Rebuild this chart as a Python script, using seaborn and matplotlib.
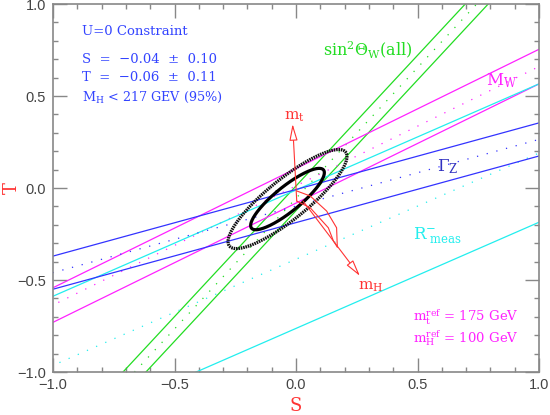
import numpy as np
import pandas as pd
import matplotlib
matplotlib.use("Agg")
import matplotlib.pyplot as plt
import seaborn as sns

# Bands in the S-T plane: T = slope * S + centre +/- halfwidth
band_names = ["sin2thetaW", "MW", "Rmeas", "GammaZ"]
band_slopes = [1.42, 0.648, 0.577, 0.362]
band_centres = [-0.056, 0.012, -0.387, -0.098]
band_halfwidths = [0.067, 0.094, 0.376, 0.090]
band_colors = ["#22dd22", "#ff22ff", "#22eeee", "#3333ff"]

# Fit result (S, T) with errors and correlation
fit_S = -0.035
fit_T = -0.06
err_S = 0.10
err_T = 0.11
fit_rho = 0.86
contour_levels = [2.30, 5.99]  # 68% and 95% CL, 2 dof

# m_t and m_H dependence (arrows / curves)
mt_arrow_S = [0.003, -0.014]
mt_arrow_T = [-0.071, 0.348]
mh_arrow_S = [0.029, 0.263]
mh_arrow_T = [-0.071, -0.478]
mh_upper_S = [0.003, 0.058, 0.126, 0.167, 0.170]
mh_upper_T = [-0.016, -0.043, -0.125, -0.216, -0.321]
mh_lower_S = [0.003, 0.058, 0.133, 0.154, 0.170]
mh_lower_T = [-0.071, -0.107, -0.216, -0.288, -0.321]

red = "#ff3333"
sns.set_style("ticks")
plt.rcParams["font.family"] = ["DejaVu Serif"]
plt.rcParams["mathtext.fontset"] = "dejavuserif"

fig = plt.figure(figsize=(5.5, 4.15), dpi=100)
ax = fig.add_axes([0.0964, 0.1036, 0.8836, 0.8867])

s_grid = np.array([-1.2, 1.2])
for name, k, c, w, col in zip(band_names, band_slopes, band_centres, band_halfwidths, band_colors):
    for off, ls in [(w, "-"), (-w, "-"), (0.0, (0, (1, 7)))]:
        df = pd.DataFrame({"S": s_grid, "T": k * s_grid + c + off})
        sns.lineplot(data=df, x="S", y="T", ax=ax, color=col, lw=0.9, linestyle=ls,
                     estimator=None, sort=False)

# error ellipses
phi = np.linspace(0, 2 * np.pi, 300)
cov = np.array([[err_S ** 2, fit_rho * err_S * err_T],
                [fit_rho * err_S * err_T, err_T ** 2]])
vals, vecs = np.linalg.eigh(cov)
for lev, ls, col in zip(contour_levels, ["-", (0, (0.5, 0.25))], ["black", "#111111"]):
    pts = vecs @ np.diag(np.sqrt(vals * lev)) @ np.vstack([np.cos(phi), np.sin(phi)])
    df = pd.DataFrame({"S": fit_S + pts[0], "T": fit_T + pts[1]})
    sns.lineplot(data=df, x="S", y="T", ax=ax, color=col, lw=2.3, linestyle=ls,
                 estimator=None, sort=False)

# m_H curves
for cs, ct in [(mh_upper_S, mh_upper_T), (mh_lower_S, mh_lower_T)]:
    sns.lineplot(x=cs, y=ct, ax=ax, color=red, lw=0.8, estimator=None, sort=False)

arrow_kw = dict(arrowstyle="-|>,head_length=1.0,head_width=0.25", color=red,
                fc="white", lw=0.8, shrinkA=0, shrinkB=0, mutation_scale=10)
ax.annotate("", xy=(mt_arrow_S[1], mt_arrow_T[1]), xytext=(mt_arrow_S[0], mt_arrow_T[0]),
            arrowprops=arrow_kw)
ax.annotate("", xy=(mh_arrow_S[1], mh_arrow_T[1]), xytext=(mh_arrow_S[0], mh_arrow_T[0]),
            arrowprops=arrow_kw)

ax.set_xlim(-1, 1)
ax.set_ylim(-1, 1)
ticks = [-1.0, -0.5, 0.0, 0.5, 1.0]
tick_labels = ["\u22121.0", "\u22120.5", "0.0", "0.5", "1.0"]
ax.set_xticks(ticks)
ax.set_yticks(ticks)
ax.set_xticks(np.arange(-1, 1.01, 0.1), minor=True)
ax.set_yticks(np.arange(-1, 1.01, 0.1), minor=True)
ax.set_xticklabels(tick_labels, family="Liberation Sans", fontsize=10.5, color="#444444")
ax.set_yticklabels(tick_labels, family="Liberation Sans", fontsize=10.5, color="#444444")
ax.tick_params(which="major", direction="in", top=True, right=True, length=10, width=1, color="#888888")
ax.tick_params(which="minor", direction="in", top=True, right=True, length=3.6, width=1, color="#888888")
ax.tick_params(axis="x", pad=4)
ax.tick_params(axis="y", pad=5)
for sp in ax.spines.values():
    sp.set_color("#888888")
    sp.set_linewidth(1.2)

ax.set_xlabel("S", color=red, fontsize=13)
ax.set_ylabel("T", color=red, fontsize=13)
ax.xaxis.set_label_coords(0.5, -0.068)
ax.yaxis.set_label_coords(-0.066, 0.5)

blue = "#3344ff"
tr = ax.transAxes
ax.text(0.060, 0.924, "U=0 Constraint", color=blue, fontsize=9.5, va="center", transform=tr)
ax.text(0.060, 0.848, "S  =  \u22120.04  \u00b1  0.10", color=blue, fontsize=9.5, va="center", transform=tr)
ax.text(0.060, 0.799, "T  =  \u22120.06  \u00b1  0.11", color=blue, fontsize=9.5, va="center", transform=tr)
ax.text(0.060, 0.747, r"$\mathrm{M_H}$ < 217 GEV (95%)", color=blue, fontsize=9.2, va="center", transform=tr)
ax.text(0.556, 0.875, r"$\mathrm{sin^2\Theta_W(all)}$", color="#22dd22", fontsize=11.5, va="center", transform=tr)
ax.text(0.891, 0.793, r"$\mathrm{M_W}$", color="#ff22ff", fontsize=12, va="center", transform=tr)
ax.text(0.790, 0.557, r"$\Gamma_\mathrm{Z}$", color="#3030c0", fontsize=12, va="center", transform=tr)
ax.text(0.741, 0.370, r"$\mathrm{R^{-}_{\ meas}}$", color="#22eeee", fontsize=12, va="center", transform=tr)
ax.text(0.496, 0.693, r"$\mathrm{m_t}$", color=red, fontsize=11, va="center", ha="center", transform=tr)
ax.text(0.628, 0.231, r"$\mathrm{m_H}$", color=red, fontsize=11, va="center", transform=tr)
ax.text(0.741, 0.150, r"$\mathrm{m_t^{ref}}$ = 175 GeV", color="#ff22ff", fontsize=9.5, va="center", transform=tr)
ax.text(0.741, 0.092, r"$\mathrm{m_H^{ref}}$ = 100 GeV", color="#ff22ff", fontsize=9.5, va="center", transform=tr)

fig.savefig("out.png", dpi=100)
